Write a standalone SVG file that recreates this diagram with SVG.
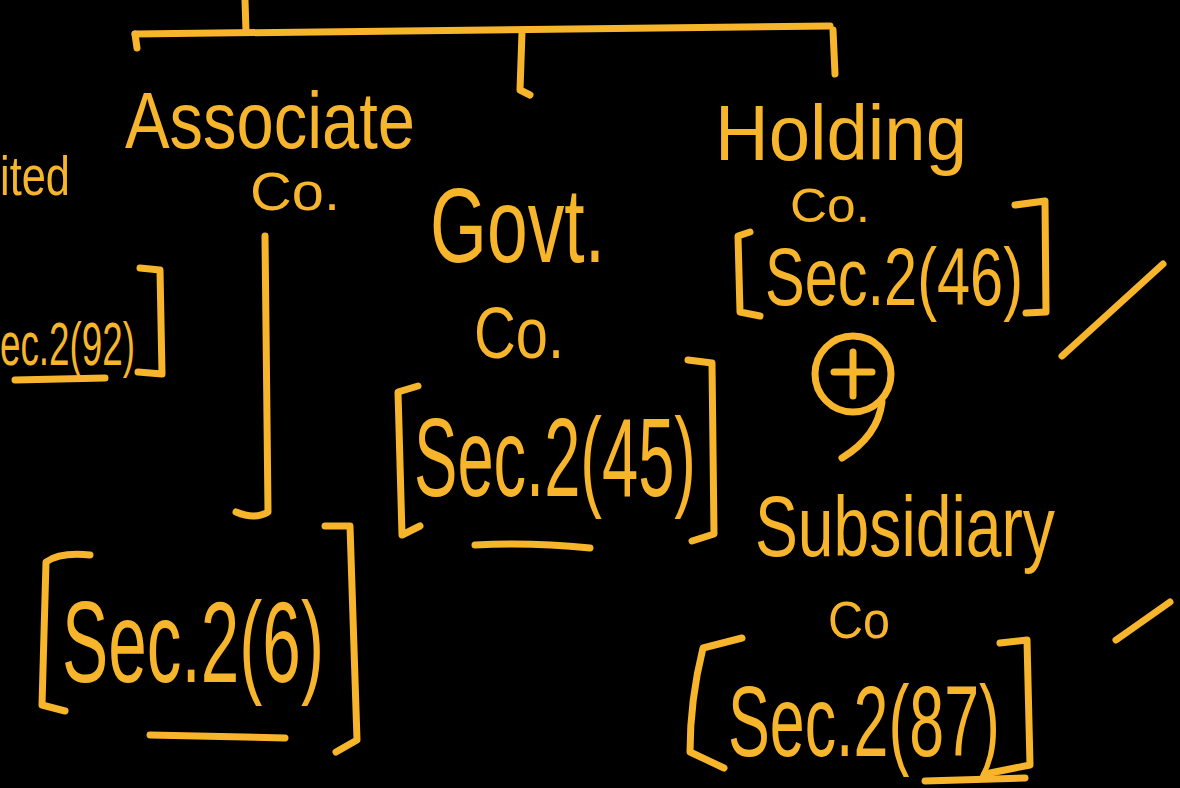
<svg xmlns="http://www.w3.org/2000/svg" width="1180" height="788" viewBox="0 0 1180 788">
<style>
.ink{fill:none;stroke:#F7B52C;stroke-width:7;stroke-linecap:round;stroke-linejoin:round}
.t{fill:#F7B52C;font-family:"Liberation Sans","DejaVu Sans",sans-serif}
</style>
<rect width="1180" height="788" fill="#000"/>
<g id="connectors">
<path class="ink" d="M135 34 Q480 30 830 26"/>
<path class="ink" d="M245 0 L246 32"/>
<path class="ink" d="M135 34 L137 48"/>
<path class="ink" d="M522 32 L520 90 L530 95"/>
<path class="ink" d="M833 30 L835 74"/>
<path class="ink" d="M265 236 L268 512 Q255 520 236 512"/>
</g>
<g id="limited">
<text class="t" x="0" y="195" font-size="55" textLength="70" lengthAdjust="spacingAndGlyphs">ited</text>
<text class="t" x="0" y="365" font-size="62" textLength="135" lengthAdjust="spacingAndGlyphs">ec.2(92)</text>
<path class="ink" d="M140 268 L160 270 L162 374 L138 372"/>
<path class="ink" d="M15 380 L105 378"/>
</g>
<g id="associate">
<text class="t" x="125" y="148" font-size="80" textLength="290" lengthAdjust="spacingAndGlyphs">Associate</text>
<text class="t" x="250" y="210" font-size="54" textLength="90" lengthAdjust="spacingAndGlyphs">Co.</text>
</g>
<g id="sec6">
<path class="ink" d="M90 555 Q60 552 46 562 L42 705 L65 711"/>
<path class="ink" d="M325 526 L350 526 L357 740 L336 752"/>
<text class="t" x="62" y="682" font-size="115" textLength="262" lengthAdjust="spacingAndGlyphs">Sec.2(6)</text>
<path class="ink" d="M150 735 L285 738"/>
</g>
<g id="govt">
<text class="t" x="430" y="262" font-size="106" textLength="175" lengthAdjust="spacingAndGlyphs">Govt.</text>
<text class="t" x="474" y="358" font-size="72" textLength="90" lengthAdjust="spacingAndGlyphs">Co.</text>
<path class="ink" d="M418 386 L398 392 L402 535 L420 526"/>
<path class="ink" d="M688 360 L712 363 L714 534 L692 541"/>
<text class="t" x="414" y="496" font-size="112" textLength="282" lengthAdjust="spacingAndGlyphs">Sec.2(45)</text>
<path class="ink" d="M475 545 Q530 542 590 548"/>
</g>
<g id="holding">
<text class="t" x="715" y="160" font-size="78" textLength="252" lengthAdjust="spacingAndGlyphs">Holding</text>
<text class="t" x="790" y="222" font-size="48" textLength="80" lengthAdjust="spacingAndGlyphs">Co.</text>
<path class="ink" d="M750 232 L738 236 L740 312 L760 316"/>
<path class="ink" d="M1015 205 L1045 201 L1046 312 L1026 313"/>
<text class="t" x="765" y="305" font-size="82" textLength="258" lengthAdjust="spacingAndGlyphs">Sec.2(46)</text>
</g>
<g id="plus">
<circle class="ink" cx="853" cy="374" r="38"/>
<path class="ink" d="M853 352 L853 396 M834 372 L872 372"/>
<path class="ink" d="M882 402 Q878 436 842 458"/>
</g>
<g id="subsidiary">
<text class="t" x="755" y="556" font-size="86" textLength="300" lengthAdjust="spacingAndGlyphs">Subsidiary</text>
<text class="t" x="828" y="638" font-size="52" textLength="62" lengthAdjust="spacingAndGlyphs">Co</text>
<path class="ink" d="M742 638 L703 648 Q690 700 690 752 L724 768"/>
<path class="ink" d="M1000 643 L1027 640 L1030 765 L985 774"/>
<text class="t" x="728" y="756" font-size="100" textLength="272" lengthAdjust="spacingAndGlyphs">Sec.2(87)</text>
<path class="ink" d="M925 781 L1025 778"/>
</g>
<g id="ticks">
<path class="ink" d="M1062 356 L1163 264"/>
<path class="ink" d="M1116 640 L1170 602"/>
</g>
</svg>
